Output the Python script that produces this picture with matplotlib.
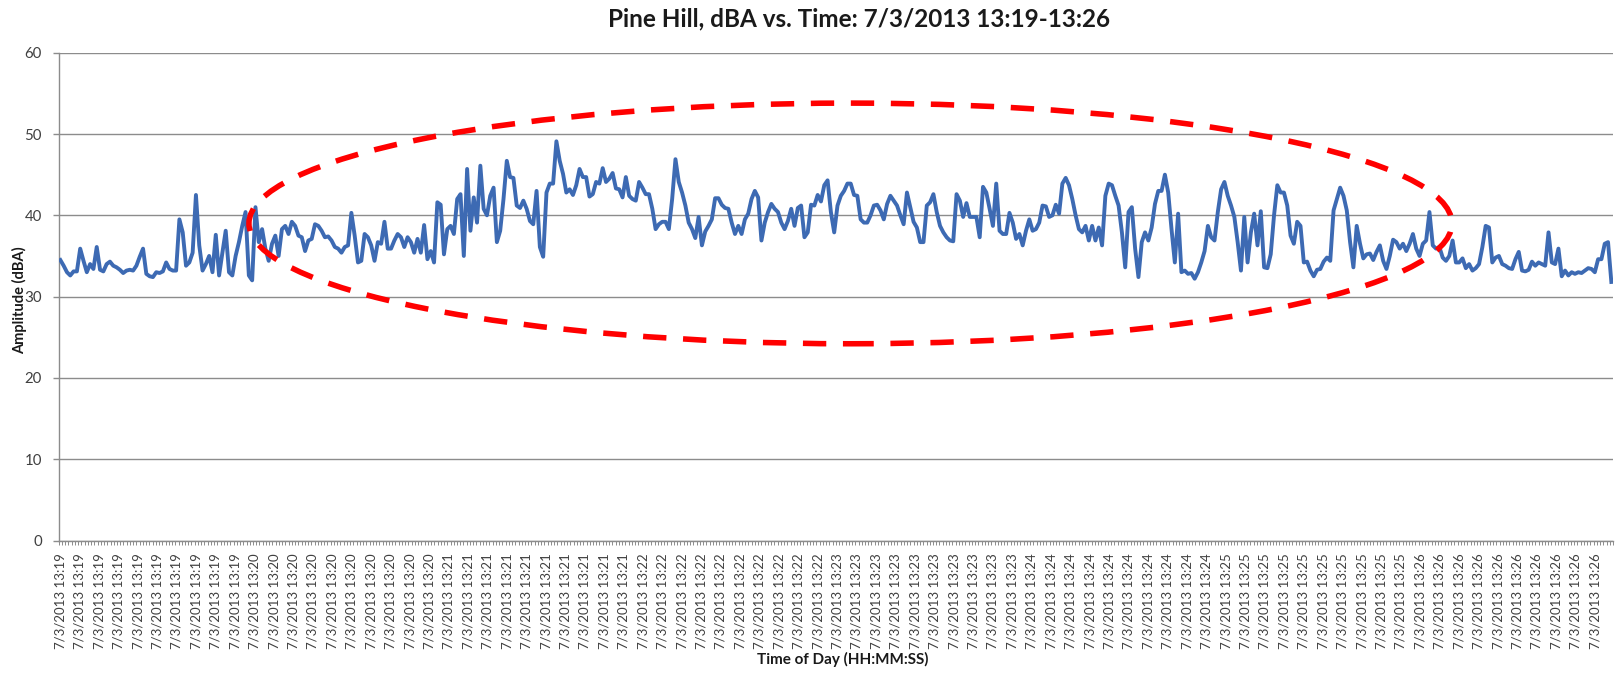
import numpy as np
import matplotlib
matplotlib.use("Agg")
import matplotlib.pyplot as plt
from matplotlib.patches import Ellipse
from matplotlib.ticker import FixedLocator, NullFormatter

plt.rcParams['font.family'] = ['Lato', 'DejaVu Sans']

# ---------------- data ----------------
title = "Pine Hill, dBA vs. Time: 7/3/2013 13:19-13:26"
x_label = "Time of Day (HH:MM:SS)"
y_label = "Amplitude (dBA)"

date_str = "7/3/2013"
minutes = [19, 20, 21, 22, 23, 24, 25, 26]
labels_per_minute = 10
window_seconds = 480

dba = [
    # 13:19 ...
    34.5, 33.8, 33.0, 32.6, 33.1, 33.1, 35.9, 34.4, 33.0, 34.0,
    33.4, 36.1, 33.3, 33.1, 34.0, 34.3, 33.8, 33.6, 33.3, 32.9,
    33.2, 33.3, 33.2, 33.8, 34.9, 35.9, 32.8, 32.5, 32.4, 33.0,
    32.9, 33.1, 34.2, 33.4, 33.2, 33.2, 39.5, 37.9, 33.8, 34.2,
    35.4, 42.5, 36.3, 33.2, 34.0, 35.0, 33.0, 37.6, 32.6, 35.4,
    38.1, 33.0, 32.6, 35.0,
    36.7, 38.7, 40.4, 32.6, 32.0, 41.0, 36.7, 38.3, 35.9, 34.4,
    36.5, 37.5, 35.0, 38.3, 38.7, 37.7, 39.2, 38.7, 37.5, 37.3,
    35.6, 36.9, 37.1, 38.9, 38.7, 38.1, 37.3, 37.4, 36.9, 36.1,
    35.9, 35.4, 36.1, 36.3, 40.3, 37.5, 34.2, 34.4, 37.7, 37.3,
    36.3, 34.4, 36.7, 36.5, 39.2, 35.9, 35.9, 36.9, 37.7, 37.3,
    36.1, 37.3, 36.7, 35.4, 37.1, 35.4, 38.8, 34.6, 35.6,
    34.2, 41.6, 41.3, 35.2, 38.3, 38.7, 37.7, 42.0, 42.6, 35.0,
    45.7, 38.1, 42.2, 39.1, 46.1, 40.8, 40.0, 42.4, 43.4, 36.7,
    38.1, 42.0, 46.7, 44.7, 44.6, 41.2, 40.9, 41.8, 40.8, 39.3,
    38.9, 43.0, 36.1, 34.9, 42.8, 43.9, 43.9, 49.1, 46.7, 45.1,
    42.8, 43.2, 42.5, 43.7, 45.7, 44.7, 44.7, 42.3, 42.6, 44.1,
    43.9, 45.8, 44.1, 44.5, 45.2, 43.3, 43.2, 42.2, 44.7,
    42.4, 42.0, 41.8, 44.1, 43.4, 42.6, 42.6, 40.8, 38.3, 38.9,
    39.2, 39.2, 38.3, 42.0, 46.9, 44.1, 42.8, 41.2, 39.1, 38.3,
    37.2, 39.8, 36.3, 38.0, 38.7, 39.5, 42.1, 42.1, 41.3, 40.9,
    40.8, 39.1, 37.7, 38.7, 37.7, 39.5, 40.2, 42.0, 43.0, 42.2,
    36.9, 39.1, 40.4, 41.4, 40.8, 40.4, 39.1, 38.3, 39.3, 40.8,
    38.7, 40.9, 41.2, 37.3, 37.9, 41.3, 41.2, 42.5, 41.7, 43.7,
    44.3, 40.4, 37.9, 41.2, 42.4, 43.0, 43.9, 43.9, 42.5, 42.4,
    39.5, 39.1, 39.1, 40.0, 41.2, 41.3, 40.6, 39.5, 41.4, 42.4,
    41.8, 41.2, 40.0, 38.9, 42.8, 41.0, 39.2, 38.5, 36.7, 36.7,
    41.2, 41.6, 42.6, 40.4, 38.7, 37.9, 37.3, 36.9, 36.8, 42.6,
    41.8, 39.8, 41.5, 39.8, 39.8, 39.8, 37.3, 43.5, 42.8, 40.8,
    38.7, 43.9, 38.1, 37.7, 37.7, 40.3, 39.1, 37.1, 37.7, 36.3,
    38.1, 39.5, 38.1, 38.3, 39.1, 41.2, 41.1, 39.8, 40.0, 41.3,
    40.2, 43.9, 44.6, 43.7, 42.0, 40.0, 38.3, 37.9, 38.7, 36.9,
    38.7, 36.9, 38.5, 36.3, 42.4, 43.9, 43.7, 42.4, 41.2, 37.9,
    33.6, 40.4, 41.0, 35.9, 32.4, 36.7, 37.9, 36.9, 38.5, 41.4,
    43.0, 43.0, 45.0, 42.8, 38.3, 34.2, 40.2, 33.0, 33.2, 32.8,
    32.9, 32.2, 33.0, 34.2, 35.6, 38.7, 37.3, 36.9, 40.4, 43.2,
    44.1,
    42.4, 41.2, 39.8, 36.7, 33.2, 39.8, 34.2, 37.9, 40.2, 36.3,
    40.5, 33.6, 33.5, 35.2, 40.0, 43.7, 42.8, 42.8, 41.2, 37.5,
    36.5, 39.2, 38.7, 34.2, 34.3, 33.2, 32.5, 33.3, 33.4, 34.3,
    34.8, 34.4, 40.6, 42.0, 43.4, 42.4, 40.6, 36.7, 33.6, 38.7,
    36.5, 34.7, 35.2, 35.3, 34.5, 35.5, 36.3, 34.4, 33.4, 35.0,
    37.0, 36.7, 35.9, 36.5, 35.6, 36.5, 37.7, 35.9, 35.0,
    36.5, 36.9, 40.4, 36.3, 35.9, 36.1, 34.8, 34.4, 35.0, 36.9,
    34.2, 34.2, 34.7, 33.5, 34.0, 33.2, 33.5, 34.0, 36.1, 38.7,
    38.5, 34.2, 34.8, 35.0, 34.0, 33.8, 33.5, 33.4, 34.6, 35.5,
    33.2, 33.1, 33.3, 34.3, 33.8, 34.2, 34.0, 33.8, 37.9, 34.2,
    34.0, 35.9, 32.5, 33.2, 32.6, 33.0, 32.8, 33.0, 32.9, 33.2,
    33.5, 33.4, 33.0, 34.6, 34.6, 36.5, 36.7, 31.8,
]

y_ticks = [0, 10, 20, 30, 40, 50, 60]

# annotation ellipse (seconds / dBA)
ell_center = (244.5, 39.0)
ell_width = 371.5
ell_height = 29.6

# ---------------- figure ----------------
W, H = 1619, 673
fig = plt.figure(figsize=(W / 100, H / 100), dpi=100)
fig.patch.set_facecolor("white")
ax_l, ax_r, ax_t, ax_b = 58.7, 1613.0, 52.7, 540.5
ax = fig.add_axes([ax_l / W, (H - ax_b) / H, (ax_r - ax_l) / W, (ax_b - ax_t) / H])

n = len(dba)
seconds = (np.arange(n) + 0.5) * window_seconds / n
ax.plot(seconds, dba, color="#3D6AB3", lw=2.8, solid_joinstyle="round", zorder=3)

ax.add_patch(Ellipse(ell_center, ell_width, ell_height, fill=False,
                     edgecolor="#FF0000", lw=4.0, linestyle=(0, (4.2, 3.0)),
                     zorder=4))

ax.set_xlim(0, window_seconds)
ax.set_ylim(0, 60)

grid_c = "#8C8C8C"
ax.set_yticks(y_ticks)
ax.set_yticklabels([str(v) for v in y_ticks])
ax.yaxis.grid(True, color=grid_c, lw=1.0, zorder=0)
ax.set_axisbelow(True)

tick_labels = [f"{date_str} 13:{m:02d}" for m in minutes for _ in range(labels_per_minute)]
step = window_seconds / len(tick_labels)
label_pos = np.arange(len(tick_labels)) * step + 0.5
ax.set_xticks(label_pos)
ax.set_xticklabels(tick_labels, rotation=90, fontsize=9.5, color="#404040")
ax.xaxis.set_minor_locator(FixedLocator(np.arange(0, window_seconds + 1, 1)))
ax.xaxis.set_minor_formatter(NullFormatter())
ax.tick_params(axis="x", which="major", length=0, pad=9)
ax.tick_params(axis="x", which="minor", length=3, width=0.7, color=grid_c)
ax.tick_params(axis="y", which="major", length=4, width=1.0, color=grid_c,
               labelsize=10.8, labelcolor="#404040", pad=8)

for s in ["top", "right"]:
    ax.spines[s].set_visible(False)
for s in ["left", "bottom"]:
    ax.spines[s].set_color(grid_c)
    ax.spines[s].set_linewidth(1.0)

fig.text(858.5 / W, 1 - 18.6 / H, title, ha="center", va="center",
         fontsize=17.5, fontweight="bold", color="#1a1a1a")
fig.text(20 / W, 1 - 300 / H, y_label, ha="center", va="center", rotation=90,
         fontsize=10.5, fontweight="bold", color="#1a1a1a")
fig.text(843 / W, 1 - 659 / H, x_label, ha="center", va="center",
         fontsize=11, fontweight="bold", color="#1a1a1a")

fig.savefig("out.png", dpi=100, facecolor="white")
